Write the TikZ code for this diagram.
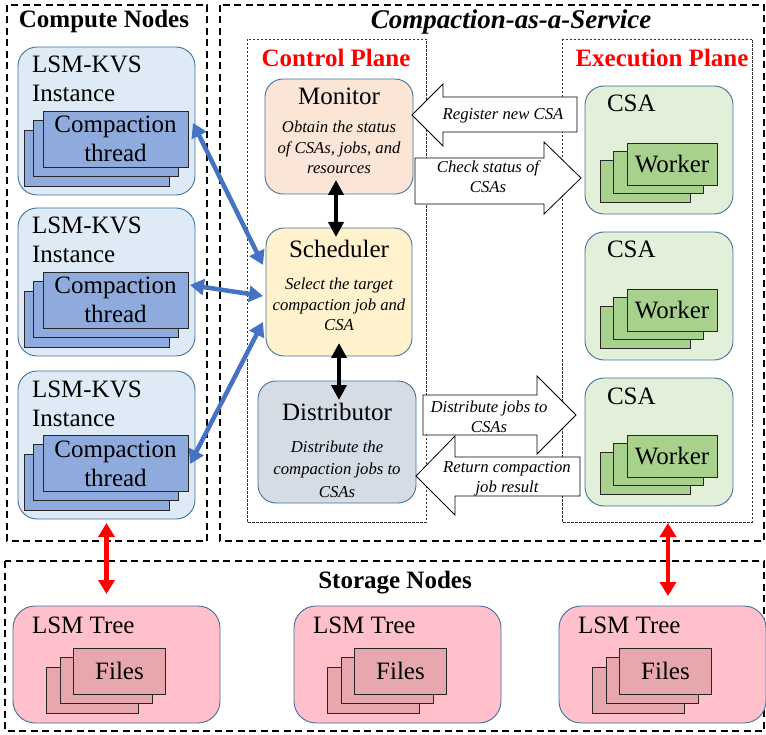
\documentclass[tikz,border=0pt]{standalone}
\usepackage{fontspec}
\setmainfont{Liberation Serif}
\usetikzlibrary{arrows.meta,calc}
\definecolor{bord}{HTML}{41719C}
\definecolor{kvsfill}{HTML}{DEEBF7}
\definecolor{ctfill}{HTML}{8FAADC}
\definecolor{monfill}{HTML}{FBE5D6}
\definecolor{schfill}{HTML}{FFF2CC}
\definecolor{disfill}{HTML}{D6DCE5}
\definecolor{csafill}{HTML}{E2F0D9}
\definecolor{wkfill}{HTML}{A9D18E}
\definecolor{lsmfill}{HTML}{FFC0CB}
\definecolor{filefill}{HTML}{E6A8AC}
\definecolor{barrow}{HTML}{4472C4}
\newcommand\fbody{\fontsize{25}{29}\selectfont}
\newcommand\fital{\fontsize{16.7}{20}\selectfont\itshape}
\newcommand\fhead{\fontsize{25}{29}\selectfont\bfseries}
\newcommand\stackof[7]{%
  \node[#4] (#1b) at (#2+2*#5,#3+2*#6) {};
  \node[#4] (#1m) at (#2+#5,#3+#6) {};
  \node[#4] (#1) at (#2,#3) {#7};
}
\begin{document}
\begin{tikzpicture}[x=1pt,y=-1pt,
  every node/.style={inner sep=0pt,outer sep=0pt},
  outerbox/.style={draw=black,line width=1.3pt,dash pattern=on 7pt off 4.5pt},
  planebox/.style={draw=black!80,line width=0.7pt,dash pattern=on 2.5pt off 1.5pt},
  rbox/.style={draw=bord,line width=0.9pt,rounded corners=19pt},
  kvs/.style={rbox,fill=kvsfill,minimum width=177pt,minimum height=148pt},
  ctbox/.style={draw=black!85,line width=0.9pt,fill=ctfill,minimum width=145pt,minimum height=56pt},
  csa/.style={rbox,fill=csafill,minimum width=148pt,minimum height=128pt},
  wkbox/.style={draw=black!85,line width=0.9pt,fill=wkfill,minimum width=90pt,minimum height=42pt,font=\fbody},
  lsm/.style={rbox,fill=lsmfill,minimum width=207pt,minimum height=117pt,rounded corners=22pt},
  filebox/.style={draw=black!85,line width=0.9pt,fill=filefill,minimum width=92pt,minimum height=46pt,font=\fbody},
  body/.style={font=\fbody},
  ital/.style={font=\fital,anchor=base},
  blk/.style={draw=black,line width=0.8pt,fill=white,line join=miter},
  barr/.style={draw=barrow,line width=4.5pt,{Triangle[length=14pt,width=16pt]}-{Triangle[length=14pt,width=16pt]}},
  karr/.style={draw=black,line width=4pt,{Triangle[length=15pt,width=15pt]}-{Triangle[length=15pt,width=15pt]}},
  rarr/.style={draw=red,line width=4.5pt,{Triangle[length=14pt,width=16pt]}-{Triangle[length=14pt,width=16pt]}}
]
\useasboundingbox (0,0) rectangle (766,735);

% outer dashed regions
\draw[outerbox] (7,5) rectangle (207,541);
\draw[outerbox] (220,5) rectangle (764,541);
\draw[outerbox] (5,561) rectangle (764,731);
\draw[planebox] (247,39) rectangle (426,522);
\draw[planebox] (562,39) rectangle (752,522);

% titles
\node[font=\fhead,anchor=base] (tcompute) at (104,28) {Compute Nodes};
\node[font=\fontsize{27}{30}\selectfont\bfseries\itshape,anchor=base] (tcaas) at (511,29) {Compaction-as-a-Service};
\node[font=\fhead,text=red,anchor=base] (tctrl) at (336,67) {Control Plane};
\node[font=\fhead,text=red,anchor=base] (texec) at (662,67) {Execution Plane};
\node[font=\fhead,anchor=base] (tstore) at (395,588) {Storage Nodes};

% compute nodes
\foreach \i/\t in {1/47,2/208,3/371}{
  \node[kvs] (kvs\i) at (106.5,\t+74) {};
  \node[body,anchor=base west] (kvsa\i) at (32,\t+26) {LSM-KVS};
  \node[body,anchor=base west] (kvsb\i) at (32,\t+55) {Instance};
  \stackof{ct\i}{115.5}{\t+92}{ctbox}{-9.5}{9.5}{}
  \node[body,anchor=base] (cta\i) at (115.5,\t+86) {Compaction};
  \node[body,anchor=base] (ctb\i) at (115.5,\t+115) {thread};
}

% control plane
\node[rbox,fill=monfill,minimum width=148pt,minimum height=115pt,rounded corners=18pt] (mon) at (339,136.5) {};
\node[body,anchor=base] (monl) at (339,105) {Monitor};
\node[ital] (mon1) at (339,133) {Obtain the status};
\node[ital] (mon2) at (339,153.5) {of CSAs, jobs, and};
\node[ital] (mon3) at (339,174) {resources};

\node[rbox,fill=schfill,minimum width=146pt,minimum height=128pt,rounded corners=18pt] (sch) at (339,292) {};
\node[body,anchor=base] (schl) at (339,258) {Scheduler};
\node[ital] (sch1) at (339,290) {Select the target};
\node[ital] (sch2) at (339,311) {compaction job and};
\node[ital] (sch3) at (339,331) {CSA};

\node[rbox,fill=disfill,minimum width=158pt,minimum height=122pt,rounded corners=18pt] (dis) at (337,442) {};
\node[body,anchor=base] (disl) at (337,420) {Distributor};
\node[ital] (dis1) at (337,452) {Distribute the};
\node[ital] (dis2) at (337,474.5) {compaction jobs to};
\node[ital] (dis3) at (337,497) {CSAs};

\draw[karr] ([xshift=-3pt,yshift=14pt]mon.south) -- ([xshift=-3pt,yshift=-9pt]sch.north);
\draw[karr] ([yshift=13pt]sch.south) -- ([xshift=2pt,yshift=-19pt]dis.north);

% execution plane
\foreach \i/\t in {1/86,2/232,3/378}{
  \node[csa] (csa\i) at (659,\t+64) {};
  \node[body,anchor=base west] (csal\i) at (607,\t+26) {CSA};
  \stackof{wk\i}{672}{\t+78}{wkbox}{-13.5}{8.5}{Worker}
}

% block arrows
\draw[blk] (412,115) -- (443,84) -- (443,97) -- (577,97) -- (577,132) -- (443,132) -- (443,146) -- cycle;
\node[ital] (areg) at (503,120) {Register new CSA};
\draw[blk] (415,158) -- (544,158) -- (544,142) -- (581,178) -- (544,214) -- (544,204) -- (415,204) -- cycle;
\node[ital] (achk1) at (488,173) {Check status of};
\node[ital] (achk2) at (488,193) {CSAs};
\draw[blk] (423,395) -- (537,395) -- (537,376) -- (576,415) -- (537,454) -- (537,435) -- (423,435) -- cycle;
\node[ital] (adis1) at (489,412) {Distribute jobs to};
\node[ital] (adis2) at (489,432) {CSAs};
\draw[blk] (416,476) -- (455,436) -- (455,457) -- (580,457) -- (580,496) -- (455,496) -- (455,515) -- cycle;
\node[ital] (aret1) at (507,472) {Return compaction};
\node[ital] (aret2) at (507,492) {job result};

% blue arrows
\draw[barr] ([xshift=5pt,yshift=16pt]ct1.east) -- ([xshift=-3pt,yshift=27pt]sch.west);
\draw[barr] ([xshift=2pt,yshift=15pt]ct2.east) -- ([xshift=-3pt,yshift=-4pt]sch.west);
\draw[barr] ([xshift=2pt,yshift=-1pt]ct3.east) -- ([xshift=-3pt,yshift=-30pt]sch.west);

% storage nodes
\foreach \i/\c in {1/116.5,2/397.5,3/662.5}{
  \node[lsm] (lsm\i) at (\c,664.5) {};
  \node[body,anchor=base west] (lsml\i) at (\c-84.5,633) {LSM Tree};
  \stackof{fl\i}{\c+3}{671}{filebox}{-13.5}{9.5}{Files}
}

% red arrows
\draw[rarr] ([yshift=-4pt]kvs3.south) -- ([xshift=-10pt,yshift=12pt]lsm1.north);
\draw[rarr] ([xshift=9pt,yshift=-17pt]csa3.south) -- ([xshift=5.5pt,yshift=10pt]lsm3.north);
\end{tikzpicture}
\end{document}
